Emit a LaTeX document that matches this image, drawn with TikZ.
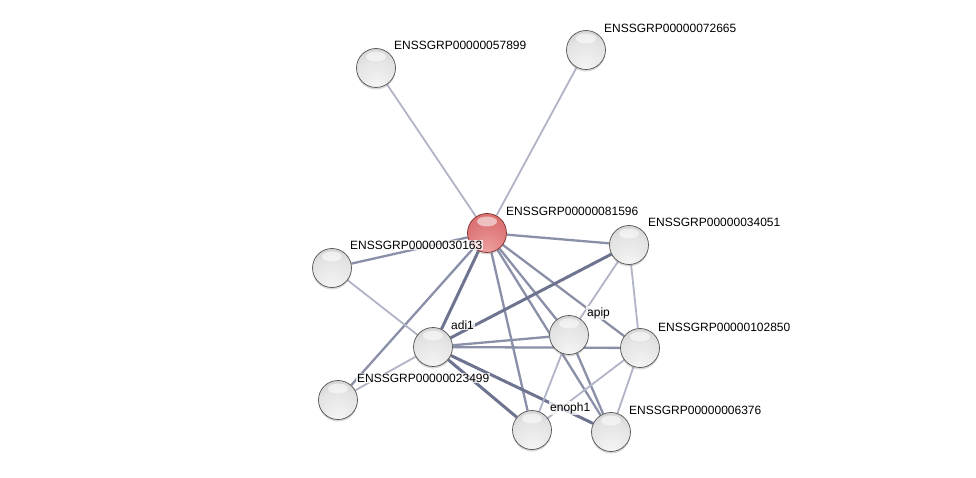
\documentclass[tikz,border=0pt]{standalone}
\usepackage{fontspec}
\setmainfont{Liberation Sans}
\usetikzlibrary{shadows}
\pgfdeclarelayer{bg}
\pgfsetlayers{bg,main}
\definecolor{edgelo}{RGB}{176,180,198}
\definecolor{edgemid}{RGB}{138,144,168}
\definecolor{edgehi}{RGB}{110,116,144}
\definecolor{redlite}{RGB}{238,160,160}
\definecolor{redmid}{RGB}{215,104,104}
\definecolor{reddark}{RGB}{172,62,62}
\pgfdeclareradialshading{sphere}{\pgfpoint{0bp}{-24bp}}{color(0bp)=(white!96!black); color(30bp)=(white!89!black); color(52bp)=(white!76!black); color(74bp)=(white!60!black); color(100bp)=(white!60!black)}
\pgfdeclareradialshading{redsphere}{\pgfpoint{0bp}{-24bp}}{color(0bp)=(redlite); color(30bp)=(redmid!75!redlite); color(52bp)=(redmid); color(74bp)=(reddark); color(100bp)=(reddark)}
\begin{document}
\begin{tikzpicture}[x=1pt,y=-1pt,
    prot/.style={circle, minimum size=39pt, inner sep=0pt, draw=gray!65!black, line width=0.7pt, shading=sphere,
      drop shadow={shadow xshift=0pt, shadow yshift=-2pt, opacity=0.3},
      path picture={\fill[white, opacity=0.55] ([yshift=-8pt]path picture bounding box.north) ellipse (10pt and 5pt);}},
    hub/.style={prot, shading=redsphere, draw=reddark!75!black},
    lbl/.style={anchor=west, font=\fontsize{12}{14}\selectfont, inner sep=1pt, fill=white, fill opacity=0.75, text opacity=1},
    lo/.style={edgelo, line width=1.8pt},
    mid/.style={edgemid, line width=2.3pt},
    hi/.style={edgehi, line width=3pt}]
  \useasboundingbox (0,0) rectangle (976,478);

  % proteins
  \node[prot] (n57899) at (376,68) {};
  \node[prot] (n72665) at (586,50) {};
  \node[hub] (n81596) at (487,233) {};
  \node[prot] (n34051) at (629,245) {};
  \node[prot] (n30163) at (332,268) {};
  \node[prot] (apip) at (569,335) {};
  \node[prot] (n102850) at (640,348) {};
  \node[prot] (adi1) at (433,347) {};
  \node[prot] (n23499) at (338,400) {};
  \node[prot] (enoph1) at (532,430) {};
  \node[prot] (n6376) at (611,432) {};

  % labels
  \node[lbl] (l57899) at (393,45) {ENSSGRP00000057899};
  \node[lbl] (l72665) at (603,28) {ENSSGRP00000072665};
  \node[lbl] (l81596) at (505,211) {ENSSGRP00000081596};
  \node[lbl] (l34051) at (647,222) {ENSSGRP00000034051};
  \node[lbl] (l30163) at (349,245) {ENSSGRP00000030163};
  \node[lbl] (ladi1) at (450,325) {adi1};
  \node[lbl] (lapip) at (586,313) {apip};
  \node[lbl] (l102850) at (657,327) {ENSSGRP00000102850};
  \node[lbl] (l23499) at (356,378) {ENSSGRP00000023499};
  \node[lbl] (lenoph1) at (549,408) {enoph1};
  \node[lbl] (l6376) at (628,410) {ENSSGRP00000006376};

  % interactions
  \begin{pgfonlayer}{bg}
    \fill[white] (0,0) rectangle (976,478);
    \draw[lo] (n81596) -- (n57899);
    \draw[lo] (n81596) -- (n72665);
    \draw[mid] (n81596) -- (n34051);
    \draw[mid] (n81596) -- (n30163);
    \draw[mid] (n81596) -- (n23499);
    \draw[hi] (n81596) -- (adi1);
    \draw[mid] (n81596) -- (enoph1);
    \draw[mid] (n81596) -- (apip);
    \draw[mid] (n81596) -- (n6376);
    \draw[mid] (n81596) -- (n102850);
    \draw[lo] (n30163) -- (adi1);
    \draw[hi] (adi1) -- (n34051);
    \draw[mid] (adi1) -- (apip);
    \draw[mid] (adi1) -- (n102850);
    \draw[lo] (adi1) -- (n23499);
    \draw[hi] (adi1) -- (enoph1);
    \draw[hi] (adi1) -- (n6376);
    \draw[lo] (n34051) -- (apip);
    \draw[lo] (n34051) -- (n102850);
    \draw[lo] (apip) -- (enoph1);
    \draw[mid] (apip) -- (n6376);
    \draw[lo] (n102850) -- (enoph1);
    \draw[lo] (n102850) -- (n6376);
  \end{pgfonlayer}
\end{tikzpicture}
\end{document}
